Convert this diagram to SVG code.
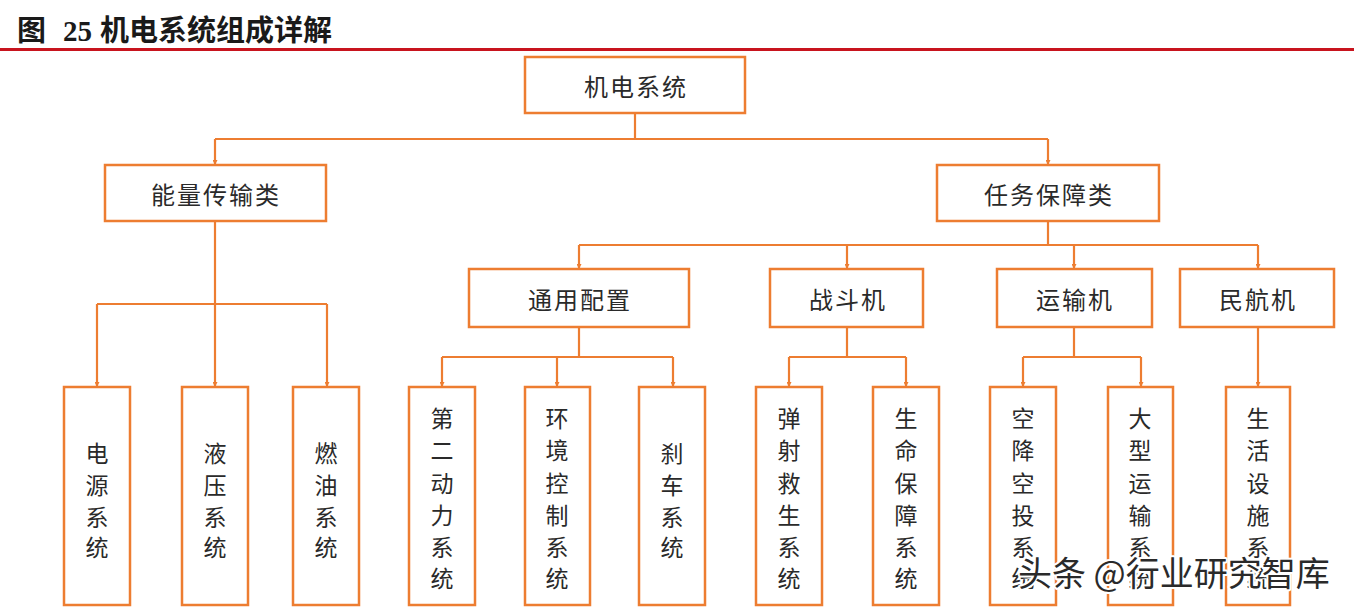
<svg xmlns="http://www.w3.org/2000/svg" width="1354" height="610" viewBox="0 0 1354 610">
<defs>
<marker id="arr" viewBox="0 0 10 10" refX="10" refY="5" markerWidth="5" markerHeight="5" orient="auto" markerUnits="userSpaceOnUse">
<path d="M0,0 L10,5 L0,10 z" fill="#ed7d31"/>
</marker>
<style>
.box{fill:#ffffff;stroke:#ed7d31;stroke-width:2.5}
.ln{fill:none;stroke:#ed7d31;stroke-width:2.2}
.t{font-family:"Noto Sans CJK SC","Noto Sans",sans-serif;font-size:24px;fill:#2a2a2a;text-anchor:middle;dominant-baseline:central;letter-spacing:2px}
.v{font-family:"Noto Sans CJK SC","Noto Sans",sans-serif;font-size:23px;fill:#2a2a2a;text-anchor:middle;dominant-baseline:central}
</style>
</defs>
<rect width="1354" height="610" fill="#ffffff"/>
<g id="title" font-family="'Liberation Serif','Noto Sans CJK SC',serif" font-size="29" font-weight="bold" fill="#1a1a1a">
<text x="17" y="41">图</text>
<text x="63" y="41">25</text>
<text x="100" y="41">机电系统组成详解</text>
<line x1="0" y1="49.5" x2="1354" y2="49.5" stroke="#c8141e" stroke-width="3"/>
</g>
<g id="connectors">
<path class="ln" d="M635,113 V139 M215,139 H1048"/>
<path class="ln" d="M215,139 V165" marker-end="url(#arr)"/>
<path class="ln" d="M1048,139 V165" marker-end="url(#arr)"/>
<path class="ln" d="M215,221 V387" marker-end="url(#arr)"/>
<path class="ln" d="M97,304 H327"/>
<path class="ln" d="M97,304 V387" marker-end="url(#arr)"/>
<path class="ln" d="M327,304 V387" marker-end="url(#arr)"/>
<path class="ln" d="M1048,221 V245 M579,245 H1258"/>
<path class="ln" d="M579,245 V269" marker-end="url(#arr)"/>
<path class="ln" d="M847,245 V269" marker-end="url(#arr)"/>
<path class="ln" d="M1074,245 V269" marker-end="url(#arr)"/>
<path class="ln" d="M1258,245 V269" marker-end="url(#arr)"/>
<path class="ln" d="M579,327 V357 M442,357 H673"/>
<path class="ln" d="M442,357 V387" marker-end="url(#arr)"/>
<path class="ln" d="M557,357 V387" marker-end="url(#arr)"/>
<path class="ln" d="M673,357 V387" marker-end="url(#arr)"/>
<path class="ln" d="M847,327 V357 M789,357 H906"/>
<path class="ln" d="M789,357 V387" marker-end="url(#arr)"/>
<path class="ln" d="M906,357 V387" marker-end="url(#arr)"/>
<path class="ln" d="M1074,327 V357 M1023,357 H1141"/>
<path class="ln" d="M1023,357 V387" marker-end="url(#arr)"/>
<path class="ln" d="M1141,357 V387" marker-end="url(#arr)"/>
<path class="ln" d="M1258,327 V387" marker-end="url(#arr)"/>
</g>
<g id="n-root"><rect class="box" x="525" y="57" width="220" height="56"/><text class="t" x="636" y="85">机电系统</text></g>
<g id="n-energy"><rect class="box" x="105" y="165" width="221" height="56"/><text class="t" x="216" y="193">能量传输类</text></g>
<g id="n-mission"><rect class="box" x="937" y="165" width="222" height="56"/><text class="t" x="1049" y="193">任务保障类</text></g>
<g id="n-general"><rect class="box" x="469" y="269" width="220" height="58"/><text class="t" x="580" y="298">通用配置</text></g>
<g id="n-fighter"><rect class="box" x="770" y="269" width="153" height="58"/><text class="t" x="848" y="298">战斗机</text></g>
<g id="n-transport"><rect class="box" x="997" y="269" width="155" height="58"/><text class="t" x="1075" y="298">运输机</text></g>
<g id="n-civil"><rect class="box" x="1180" y="269" width="154" height="58"/><text class="t" x="1258" y="298">民航机</text></g>
<g id="n-power"><rect class="box" x="64" y="387" width="66" height="218"/><text class="v" x="97"><tspan x="97" y="452">电</tspan><tspan x="97" y="484">源</tspan><tspan x="97" y="516">系</tspan><tspan x="97" y="546">统</tspan></text></g>
<g id="n-hydraulic"><rect class="box" x="182" y="387" width="66" height="218"/><text class="v" x="215"><tspan x="215" y="452">液</tspan><tspan x="215" y="484">压</tspan><tspan x="215" y="516">系</tspan><tspan x="215" y="546">统</tspan></text></g>
<g id="n-fuel"><rect class="box" x="293" y="387" width="66" height="218"/><text class="v" x="326"><tspan x="326" y="452">燃</tspan><tspan x="326" y="484">油</tspan><tspan x="326" y="516">系</tspan><tspan x="326" y="546">统</tspan></text></g>
<g id="n-apu"><rect class="box" x="409" y="387" width="66" height="218"/><text class="v" x="442"><tspan x="442" y="417">第</tspan><tspan x="442" y="449">二</tspan><tspan x="442" y="482">动</tspan><tspan x="442" y="514">力</tspan><tspan x="442" y="546">系</tspan><tspan x="442" y="577">统</tspan></text></g>
<g id="n-env"><rect class="box" x="525" y="387" width="65" height="218"/><text class="v" x="557"><tspan x="557" y="417">环</tspan><tspan x="557" y="449">境</tspan><tspan x="557" y="482">控</tspan><tspan x="557" y="514">制</tspan><tspan x="557" y="546">系</tspan><tspan x="557" y="577">统</tspan></text></g>
<g id="n-brake"><rect class="box" x="639" y="387" width="66" height="218"/><text class="v" x="672"><tspan x="672" y="452">刹</tspan><tspan x="672" y="484">车</tspan><tspan x="672" y="516">系</tspan><tspan x="672" y="546">统</tspan></text></g>
<g id="n-eject"><rect class="box" x="756" y="387" width="66" height="218"/><text class="v" x="789"><tspan x="789" y="417">弹</tspan><tspan x="789" y="449">射</tspan><tspan x="789" y="482">救</tspan><tspan x="789" y="514">生</tspan><tspan x="789" y="546">系</tspan><tspan x="789" y="577">统</tspan></text></g>
<g id="n-life"><rect class="box" x="873" y="387" width="66" height="218"/><text class="v" x="906"><tspan x="906" y="417">生</tspan><tspan x="906" y="449">命</tspan><tspan x="906" y="482">保</tspan><tspan x="906" y="514">障</tspan><tspan x="906" y="546">系</tspan><tspan x="906" y="577">统</tspan></text></g>
<g id="n-airdrop"><rect class="box" x="990" y="387" width="66" height="218"/><text class="v" x="1023"><tspan x="1023" y="417">空</tspan><tspan x="1023" y="449">降</tspan><tspan x="1023" y="482">空</tspan><tspan x="1023" y="514">投</tspan><tspan x="1023" y="546">系</tspan><tspan x="1023" y="577">统</tspan></text></g>
<g id="n-heavy"><rect class="box" x="1108" y="387" width="65" height="218"/><text class="v" x="1140"><tspan x="1140" y="417">大</tspan><tspan x="1140" y="449">型</tspan><tspan x="1140" y="482">运</tspan><tspan x="1140" y="514">输</tspan><tspan x="1140" y="546">系</tspan><tspan x="1140" y="577">统</tspan></text></g>
<g id="n-living"><rect class="box" x="1226" y="387" width="64" height="218"/><text class="v" x="1258"><tspan x="1258" y="417">生</tspan><tspan x="1258" y="449">活</tspan><tspan x="1258" y="482">设</tspan><tspan x="1258" y="514">施</tspan><tspan x="1258" y="546">系</tspan><tspan x="1258" y="577">统</tspan></text></g>
<g id="watermark">
<text x="1018" y="586" font-family="'Noto Sans CJK SC',sans-serif" font-size="34" fill="#2a2a2a" stroke="#ffffff" stroke-width="4" paint-order="stroke" stroke-linejoin="round">头条 @行业研究智库</text>
</g>
</svg>
